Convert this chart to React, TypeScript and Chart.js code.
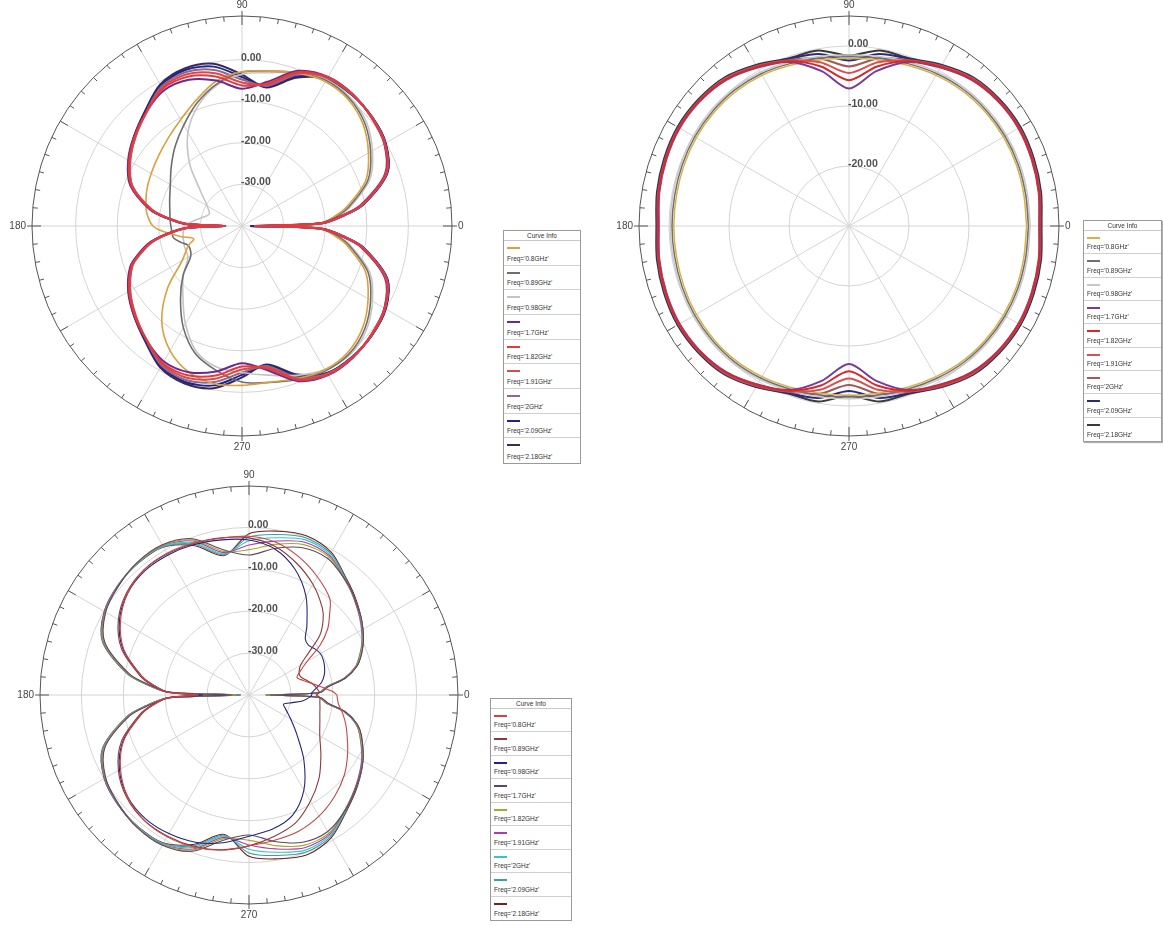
import React, { useEffect, useRef } from "react";
import { Chart, registerables } from "chart.js";

Chart.register(...registerables);

// ---------------- shared labels ----------------
const FREQ_LABELS = [
  "Freq='0.8GHz'", "Freq='0.89GHz'", "Freq='0.98GHz'", "Freq='1.7GHz'", "Freq='1.82GHz'",
  "Freq='1.91GHz'", "Freq='2GHz'", "Freq='2.09GHz'", "Freq='2.18GHz'",
];

// ---------------- plot 1 (top-left) ----------------
const ANGLES_1 = [0,2,6,10,20,30,40,50,60,70,80,90,100,110,120,130,140,150,160,170,174,178,180,182,186,190,195,200,210,220,230,240,250,260,270,280,290,300,310,320,330,340,350,354,358];
const P1_080 = [-30,-21,-17.6,-14.6,-8.4,-4.9,-2.0,-0.3,0.1,-0.9,-2.2,-2.9,-4.6,-7.8,-10.5,-12.4,-13.8,-14.8,-15.6,-16.6,-17.2,-18.0,-18.6,-19.6,-22.5,-25.2,-28.0,-26.3,-23.4,-16.6,-10.0,-5.4,-2.6,-1.5,-1.7,-1.9,-1.0,-0.1,-0.4,-2.1,-5.0,-8.5,-14.6,-17.6,-21];
const P1_089 = [-27,-21,-17.1,-14.0,-7.8,-4.3,-1.5,0.1,0.4,-0.8,-2.2,-3.0,-5.3,-8.5,-12.0,-15.0,-17.8,-20.1,-21.5,-22.4,-22.6,-22.8,-22.9,-23.0,-23.1,-23.3,-24.8,-26.3,-25.8,-21.5,-17.0,-11.8,-7.3,-4.7,-2.5,-1.8,-0.8,0.2,0.1,-1.5,-4.3,-7.8,-14.0,-17.1,-21];
const P1_098 = [-26,-21,-16.8,-13.6,-7.3,-3.8,-1.0,0.4,0.6,-0.8,-2.6,-3.5,-5.6,-9.2,-14.0,-20.4,-27.0,-30.3,-31.6,-29.6,-28.3,-26.8,-26.2,-26.0,-25.8,-25.6,-25.5,-25.3,-25.0,-21.6,-17.9,-12.8,-7.9,-5.5,-4.8,-3.6,-1.8,-0.2,0.4,-1.0,-3.8,-7.3,-13.6,-16.8,-21];
const P1_170 = [-36,-21.2,-15.8,-11.0,-3.4,-0.5,0.6,1.4,1.4,-0.3,-4.8,-7.0,-4.5,-2.6,-2.4,-4.2,-6.2,-8.4,-11.4,-17.6,-21.8,-26.4,-35,-26.4,-21.8,-17.6,-14.3,-11.4,-8.4,-6.2,-4.2,-2.4,-2.6,-4.5,-7.0,-4.8,-0.3,1.4,1.4,0.6,-0.5,-3.4,-11.0,-15.8,-21.2];
const P1_182 = [-37,-21.0,-15.6,-10.8,-3.2,-0.4,0.6,1.3,1.3,-0.6,-5.2,-6.2,-3.5,-1.8,-1.9,-4.3,-6.4,-8.7,-11.7,-17.9,-22.0,-26.6,-36,-26.6,-22.0,-17.9,-14.6,-11.7,-8.7,-6.4,-4.3,-1.9,-1.8,-3.5,-6.2,-5.2,-0.6,1.3,1.3,0.6,-0.4,-3.2,-10.8,-15.6,-21.0];
const P1_191 = [-37,-20.9,-15.5,-10.7,-3.1,-0.3,0.7,1.3,1.2,-0.9,-5.5,-5.5,-2.7,-1.2,-1.6,-4.3,-6.6,-8.9,-11.9,-18.1,-22.2,-26.8,-36,-26.8,-22.2,-18.1,-14.8,-11.9,-8.9,-6.6,-4.3,-1.6,-1.2,-2.7,-5.5,-5.5,-0.9,1.2,1.3,0.7,-0.3,-3.1,-10.7,-15.5,-20.9];
const P1_200 = [-37,-20.8,-15.4,-10.6,-3.0,-0.3,0.7,1.2,1.0,-1.3,-5.8,-4.8,-1.9,-0.6,-1.3,-4.2,-6.6,-9.0,-12.0,-18.2,-22.3,-26.9,-36,-26.9,-22.3,-18.2,-14.9,-12.0,-9.0,-6.6,-4.2,-1.3,-0.6,-1.9,-4.8,-5.8,-1.3,1.0,1.2,0.7,-0.3,-3.0,-10.6,-15.4,-20.8];
const P1_209 = [-38,-20.7,-15.3,-10.5,-2.9,-0.2,0.8,1.2,0.9,-1.7,-6.0,-4.2,-1.1,-0.1,-1.0,-4.0,-6.4,-8.8,-11.8,-18.0,-22.1,-26.7,-36,-26.7,-22.1,-18.0,-14.7,-11.8,-8.8,-6.4,-4.0,-1.0,-0.1,-1.1,-4.2,-6.0,-1.7,0.9,1.2,0.8,-0.2,-2.9,-10.5,-15.3,-20.7];
const P1_218 = [-38,-20.6,-15.2,-10.4,-2.8,-0.1,0.8,1.1,0.8,-2.1,-6.2,-3.6,-0.4,0.3,-0.7,-3.8,-6.2,-8.6,-11.6,-17.8,-21.9,-26.5,-36,-26.5,-21.9,-17.8,-14.5,-11.6,-8.6,-6.2,-3.8,-0.7,0.3,-0.4,-3.6,-6.2,-2.1,0.8,1.1,0.8,-0.1,-2.8,-10.4,-15.2,-20.6];
const COLORS_1 = ["#dca040", "#6e6e6e", "#c4c4c4", "#6a2a8e", "#e8383c", "#d94a4a", "#8c6a8c", "#22228a", "#3a2a5a"];
const ORDER_1 = [3, 3, 3, 2, 0, 1, 4, 4, 4];

// ---------------- plot 2 (top-right) ----------------
const ANGLES_2 = [0,10,20,30,40,50,60,70,80,90,100,110,120,130,140,150,160,170,180,190,200,210,220,230,240,250,260,270,280,290,300,310,320,330,340,350];
const P2_080 = [-0.4,-0.4,-0.3,-0.3,-0.4,-0.6,-1.0,-1.5,-1.9,-2.1,-1.9,-1.5,-1.0,-0.7,-0.6,-0.6,-0.7,-0.8,-0.8,-0.8,-0.7,-0.6,-0.6,-0.7,-1.0,-1.4,-1.7,-1.8,-1.7,-1.4,-1.0,-0.6,-0.4,-0.3,-0.3,-0.4];
const P2_089 = [-0.1,-0.1,0.0,0.0,-0.1,-0.3,-0.7,-1.2,-1.6,-1.8,-1.6,-1.2,-0.7,-0.4,-0.3,-0.3,-0.4,-0.5,-0.5,-0.5,-0.4,-0.3,-0.3,-0.4,-0.7,-1.1,-1.4,-1.5,-1.4,-1.1,-0.7,-0.3,-0.1,0.0,0.0,-0.1];
const P2_098 = [0.2,0.2,0.3,0.3,0.2,0.0,-0.4,-0.9,-1.3,-1.5,-1.3,-0.9,-0.4,-0.1,0.0,0.0,-0.1,-0.2,-0.2,-0.2,-0.1,0.0,0.0,-0.1,-0.4,-0.8,-1.1,-1.2,-1.1,-0.8,-0.4,0.0,0.2,0.3,0.3,0.2];
const P2_170 = [1.7,2.1,2.4,2.6,2.4,1.8,0.5,-0.9,-3.8,-7.1,-3.8,-0.9,0.5,1.8,2.4,2.6,2.4,2.1,1.7,2.1,2.4,2.6,2.4,1.8,0.5,-0.9,-3.8,-7.0,-3.8,-0.9,0.5,1.8,2.4,2.6,2.4,2.1];
const P2_182 = [1.8,2.2,2.5,2.7,2.5,1.9,0.6,-0.8,-3.0,-5.7,-3.0,-0.8,0.6,1.9,2.5,2.7,2.5,2.2,1.8,2.2,2.5,2.7,2.5,1.9,0.6,-0.8,-3.0,-5.8,-3.0,-0.8,0.6,1.9,2.5,2.7,2.5,2.2];
const P2_191 = [1.8,2.2,2.5,2.7,2.5,2.0,0.7,-0.7,-2.3,-4.5,-2.3,-0.7,0.7,2.0,2.5,2.7,2.5,2.2,1.8,2.2,2.5,2.7,2.5,2.0,0.7,-0.7,-2.3,-4.6,-2.3,-0.7,0.7,2.0,2.5,2.7,2.5,2.2];
const P2_200 = [1.9,2.3,2.6,2.8,2.6,2.1,0.8,-0.6,-1.6,-3.4,-1.6,-0.6,0.8,2.1,2.6,2.8,2.6,2.3,1.9,2.3,2.6,2.8,2.6,2.1,0.8,-0.6,-1.6,-3.5,-1.6,-0.6,0.8,2.1,2.6,2.8,2.6,2.3];
const P2_209 = [2.0,2.4,2.7,2.9,2.7,2.2,0.9,-0.4,-0.9,-2.4,-0.9,-0.4,0.9,2.2,2.7,2.9,2.7,2.4,2.0,2.4,2.7,2.9,2.7,2.2,0.9,-0.4,-0.9,-2.5,-0.9,-0.4,0.9,2.2,2.7,2.9,2.7,2.4];
const P2_218 = [2.1,2.5,2.8,3.0,2.8,2.3,1.0,-0.3,-0.3,-1.6,-0.3,-0.3,1.0,2.3,2.8,3.0,2.8,2.5,2.1,2.5,2.8,3.0,2.8,2.3,1.0,-0.3,-0.3,-1.7,-0.3,-0.3,1.0,2.3,2.8,3.0,2.8,2.5];
const COLORS_2 = ["#d8b04c", "#707070", "#c8c8c8", "#7a3a9a", "#d42a2a", "#d85050", "#a05a5a", "#2a2a80", "#3a3a3a"];
const ORDER_2 = [3, 3, 3, 2, 0, 1, 4, 4, 4];

// ---------------- plot 3 (bottom-left) ----------------
const ANGLES_3 = [0,2,6,10,15,20,25,30,35,40,45,50,60,70,80,90,100,110,120,130,140,150,160,170,174,178,180,182,186,190,200,210,220,230,240,250,260,270,280,290,300,310,320,330,340,345,350,354,358];
const P3_080 = [-19.0,-19.8,-22.4,-24.5,-26.6,-27.8,-26.5,-24.0,-19.3,-15.5,-12.8,-10.0,-7.4,-5.0,-3.0,-2.1,-2.0,-1.4,-0.9,-1.0,-2.2,-4.6,-8.2,-14.0,-17.0,-20.5,-28,-20.5,-17.0,-14.0,-8.2,-4.6,-2.2,-1.0,-0.9,-1.4,-2.4,-4.0,-4.8,-5.4,-6.6,-8.3,-10.3,-12.8,-15.2,-16.3,-17.5,-18.5,-18.9];
const P3_089 = [-24.0,-23.2,-23.8,-24.6,-26.0,-27.0,-26.8,-25.8,-22.8,-18.0,-15.0,-12.8,-9.5,-6.6,-4.0,-2.5,-1.9,-1.5,-1.1,-1.0,-1.9,-4.0,-7.6,-13.6,-16.6,-20.4,-27,-20.4,-16.6,-13.6,-7.6,-4.0,-1.9,-1.0,-1.1,-1.6,-2.5,-4.0,-5.7,-7.5,-10.7,-14.0,-17.6,-20.5,-22.0,-22.5,-22.8,-23.0,-23.1];
const P3_098 = [-25.0,-25.0,-23.8,-22.4,-21.4,-20.8,-20.4,-20.3,-20.8,-21.5,-21.0,-18.5,-12.8,-8.0,-4.6,-3.0,-2.4,-1.8,-1.4,-1.3,-2.2,-4.3,-8.0,-14.0,-17.0,-20.8,-29,-20.8,-17.0,-14.0,-8.0,-4.3,-2.2,-1.5,-1.8,-2.6,-4.2,-6.3,-7.5,-9.5,-13.8,-19.6,-25.0,-28.5,-30.8,-31.5,-29.5,-27.0,-25.5];
const P3_170 = [-35,-23.0,-21.0,-16.6,-13.3,-11.4,-9.9,-8.6,-7.4,-6.4,-5.2,-4.2,-2.4,-2.6,-4.5,-6.6,-4.8,-0.3,1.4,1.4,0.6,-0.5,-3.4,-11.0,-15.8,-21.2,-36,-21.2,-15.8,-11.0,-3.4,-0.5,0.6,1.4,1.4,-0.3,-4.8,-6.6,-4.5,-2.6,-2.4,-4.2,-6.4,-8.6,-11.4,-13.3,-16.6,-21.0,-23.0];
const P3_182 = [-36,-23.2,-21.2,-16.8,-13.5,-11.7,-10.1,-8.7,-7.5,-6.4,-5.3,-4.3,-1.9,-1.8,-3.5,-5.3,-5.2,-0.6,1.3,1.3,0.6,-0.4,-3.2,-10.8,-15.6,-21.0,-37,-21.0,-15.6,-10.8,-3.2,-0.4,0.6,1.3,1.3,-0.6,-5.2,-5.3,-3.5,-1.8,-1.9,-4.3,-6.4,-8.7,-11.7,-13.5,-16.8,-21.2,-23.2];
const P3_191 = [-36,-23.3,-21.4,-16.9,-13.6,-11.8,-10.2,-8.9,-7.7,-6.6,-5.4,-4.3,-1.6,-1.2,-2.7,-4.2,-5.5,-0.9,1.2,1.3,0.7,-0.3,-3.1,-10.7,-15.5,-20.9,-37,-20.9,-15.5,-10.7,-3.1,-0.3,0.7,1.3,1.2,-0.9,-5.5,-4.2,-2.7,-1.2,-1.6,-4.3,-6.6,-8.9,-11.8,-13.6,-16.9,-21.4,-23.3];
const P3_200 = [-36,-23.4,-21.5,-17.0,-13.7,-11.9,-10.3,-9.0,-7.8,-6.6,-5.4,-4.2,-1.3,-0.6,-1.9,-3.2,-5.8,-1.3,1.0,1.2,0.7,-0.3,-3.0,-10.6,-15.4,-20.8,-37,-20.8,-15.4,-10.6,-3.0,-0.3,0.7,1.2,1.0,-1.3,-5.8,-3.2,-1.9,-0.6,-1.3,-4.2,-6.6,-9.0,-11.9,-13.7,-17.0,-21.5,-23.4];
const P3_209 = [-36,-23.2,-21.3,-16.8,-13.5,-11.7,-10.1,-8.8,-7.6,-6.4,-5.2,-4.0,-1.0,-0.1,-1.1,-2.3,-6.0,-1.7,0.9,1.2,0.8,-0.2,-2.9,-10.5,-15.3,-20.7,-38,-20.7,-15.3,-10.5,-2.9,-0.2,0.8,1.2,0.9,-1.7,-6.0,-2.3,-1.1,-0.1,-1.0,-4.0,-6.4,-8.8,-11.7,-13.5,-16.8,-21.3,-23.2];
const P3_218 = [-36,-23.0,-21.1,-16.6,-13.3,-11.5,-9.9,-8.6,-7.4,-6.2,-5.0,-3.8,-0.7,0.4,-0.3,-1.5,-6.2,-2.1,0.8,1.1,0.8,-0.1,-2.8,-10.4,-15.2,-20.6,-38,-20.6,-15.2,-10.4,-2.8,-0.1,0.8,1.1,0.8,-2.1,-6.2,-1.5,-0.3,0.6,-0.7,-3.8,-6.2,-8.6,-11.5,-13.3,-16.6,-21.1,-23.0];
const COLORS_3 = ["#cc4444", "#8a3a3a", "#24247e", "#5e4666", "#a8a82a", "#b03ab0", "#3cc4c4", "#3aa0a0", "#7a1e1e"];
const ORDER_3 = [0, 1, 2, 3, 4, 5, 6, 7, 8];

// ---------------- plot specs ----------------
type Spec = {
  left: number; top: number; radius: number;
  rMin: number; rMax: number; rings: number[];
  angles: number[]; series: number[][]; colors: string[]; widths: number[]; order: number[];
};
const PAD = 30;
const FONT = 'Arial, "Liberation Sans", sans-serif';

const SPEC_1: Spec = {
  left: 2, top: -14, radius: 210, rMin: -40, rMax: 10.48, rings: [-30, -20, -10, 0],
  angles: ANGLES_1,
  series: [P1_080, P1_089, P1_098, P1_170, P1_182, P1_191, P1_200, P1_209, P1_218],
  colors: COLORS_1, widths: [1.6, 1.6, 1.6, 2, 2, 2, 2, 2, 2], order: ORDER_1,
};
const SPEC_2: Spec = {
  left: 609, top: -14, radius: 210, rMin: -30, rMax: 5, rings: [-20, -10, 0],
  angles: ANGLES_2,
  series: [P2_080, P2_089, P2_098, P2_170, P2_182, P2_191, P2_200, P2_209, P2_218],
  colors: COLORS_2, widths: [1.5, 1.5, 1.5, 2, 2, 2, 2, 2, 2], order: ORDER_2,
};
const SPEC_3: Spec = {
  left: 10, top: 456, radius: 209, rMin: -40, rMax: 9.88, rings: [-30, -20, -10, 0],
  angles: ANGLES_3,
  series: [P3_080, P3_089, P3_098, P3_170, P3_182, P3_191, P3_200, P3_209, P3_218],
  colors: COLORS_3, widths: [1.1, 1.1, 1.1, 1.1, 1.1, 1.1, 1.1, 1.1, 1.1], order: ORDER_3,
};

function makeFrame(spec: Spec) {
  const geo = (chart: any) => {
    const xs = chart.scales.x, ys = chart.scales.y;
    const cx = xs.getPixelForValue(0), cy = ys.getPixelForValue(0);
    const rp = (db: number) => xs.getPixelForValue(db - spec.rMin) - cx;
    return { cx, cy, rp, R: rp(spec.rMax) };
  };
  return {
    id: "polarFrame",
    beforeDatasetsDraw(chart: any) {
      const ctx = chart.ctx as CanvasRenderingContext2D;
      const { cx, cy, rp, R } = geo(chart);
      ctx.save();
      ctx.lineWidth = 1;
      ctx.strokeStyle = "#d4d4d4";
      spec.rings.forEach((v) => {
        ctx.beginPath();
        ctx.arc(cx, cy, rp(v), 0, Math.PI * 2);
        ctx.stroke();
      });
      for (let a = 0; a < 360; a += 30) {
        const t = (a * Math.PI) / 180;
        ctx.beginPath();
        ctx.moveTo(cx, cy);
        ctx.lineTo(cx + R * Math.cos(t), cy - R * Math.sin(t));
        ctx.stroke();
      }
      ctx.strokeStyle = "#555";
      ctx.beginPath();
      ctx.arc(cx, cy, R, 0, Math.PI * 2);
      ctx.stroke();
      for (let a = 0; a < 360; a += 5) {
        const t = (a * Math.PI) / 180;
        const len = a % 30 === 0 ? 9 : 5;
        const c = Math.cos(t), s = Math.sin(t);
        ctx.beginPath();
        ctx.moveTo(cx + R * c, cy - R * s);
        ctx.lineTo(cx + (R - len) * c, cy - (R - len) * s);
        ctx.stroke();
      }
      [0, 90, 180, 270].forEach((a) => {
        const t = (a * Math.PI) / 180;
        const c = Math.cos(t), s = Math.sin(t);
        ctx.beginPath();
        ctx.moveTo(cx + R * c, cy - R * s);
        ctx.lineTo(cx + (R + 5) * c, cy - (R + 5) * s);
        ctx.stroke();
      });
      ctx.fillStyle = "#444";
      ctx.font = `10px ${FONT}`;
      ctx.textBaseline = "middle";
      ctx.textAlign = "center";
      ctx.fillText("90", cx, cy - R - 11);
      ctx.fillText("270", cx, cy + R + 11);
      ctx.textAlign = "left";
      ctx.fillText("0", cx + R + 6, cy);
      ctx.textAlign = "right";
      ctx.fillText("180", cx - R - 6, cy);
      ctx.restore();
    },
    afterDatasetsDraw(chart: any) {
      const ctx = chart.ctx as CanvasRenderingContext2D;
      const { cx, cy, rp } = geo(chart);
      ctx.save();
      ctx.fillStyle = "#505050";
      ctx.font = `bold 10.5px ${FONT}`;
      ctx.textAlign = "left";
      ctx.textBaseline = "alphabetic";
      spec.rings.forEach((v) => {
        ctx.fillText(v.toFixed(2), cx - 1, cy - rp(v) + 1);
      });
      ctx.restore();
    },
  };
}

function PolarChart({ spec }: { spec: Spec }) {
  const ref = useRef<HTMLCanvasElement | null>(null);
  const size = spec.radius * 2 + PAD * 2;
  useEffect(() => {
    if (!ref.current) return;
    const span = spec.rMax - spec.rMin;
    const toPoints = (db: number[]) => {
      const pts = spec.angles.map((a, i) => {
        const r = Math.max(0, db[i] - spec.rMin);
        const t = (a * Math.PI) / 180;
        return { x: r * Math.cos(t), y: r * Math.sin(t) };
      });
      pts.push({ ...pts[0] });
      return pts;
    };
    const chart = new Chart(ref.current, {
      type: "scatter",
      data: {
        datasets: spec.series.map((s, i) => ({
          label: FREQ_LABELS[i],
          data: toPoints(s),
          showLine: true,
          borderColor: spec.colors[i],
          backgroundColor: spec.colors[i],
          borderWidth: spec.widths[i],
          order: spec.order[i],
          pointRadius: 0,
          pointHoverRadius: 0,
          fill: false,
          tension: 0.3,
        })),
      },
      options: {
        animation: false,
        responsive: false,
        maintainAspectRatio: false,
        events: [],
        layout: { padding: PAD },
        plugins: { legend: { display: false }, tooltip: { enabled: false } },
        scales: {
          x: { type: "linear", min: -span, max: span, display: false },
          y: { type: "linear", min: -span, max: span, display: false },
        },
      },
      plugins: [makeFrame(spec)],
    } as any);
    return () => chart.destroy();
  }, []);
  return (
    <canvas
      ref={ref}
      width={size}
      height={size}
      style={{ position: "absolute", left: spec.left, top: spec.top, width: size, height: size }}
    />
  );
}

function Legend({ left, top, width, height, colors, shadow }: { left: number; top: number; width: number; height: number; colors: string[]; shadow?: boolean }) {
  const titleH = 10;
  const rowH = (height - titleH - 2) / FREQ_LABELS.length;
  return (
    <div
      style={{
        position: "absolute", left, top, width, height, boxSizing: "border-box",
        border: "1px solid #9a9a9a", background: "#fff", fontFamily: FONT, color: "#333",
        boxShadow: shadow ? "1px 1px 1px #b0b0b0" : "none",
      }}
    >
      <div style={{ height: titleH, lineHeight: `${titleH}px`, textAlign: "center", fontSize: 6.5, borderBottom: "1px solid #c8c8c8", boxSizing: "border-box" }}>
        Curve Info
      </div>
      {FREQ_LABELS.map((lab, i) => (
        <div key={lab} style={{ position: "relative", height: rowH, boxSizing: "border-box", borderBottom: i < FREQ_LABELS.length - 1 ? "1px solid #d0d0d0" : "none" }}>
          <div style={{ position: "absolute", left: 3, top: 6, width: 13, height: 2, background: colors[i] }} />
          <div style={{ position: "absolute", left: 3, bottom: 2, fontSize: 6.5, lineHeight: "8px", whiteSpace: "nowrap" }}>{lab}</div>
        </div>
      ))}
    </div>
  );
}

export default function App() {
  return (
    <div style={{ position: "absolute", left: 0, top: 0, width: 1163, height: 926, overflow: "hidden", background: "#fff" }}>
      <PolarChart spec={SPEC_1} />
      <PolarChart spec={SPEC_2} />
      <PolarChart spec={SPEC_3} />
      <Legend left={503} top={230} width={78} height={234} colors={COLORS_1} />
      <Legend left={1083} top={220} width={79} height={222} colors={COLORS_2} shadow />
      <Legend left={490} top={698} width={82} height={223} colors={COLORS_3} />
    </div>
  );
}
